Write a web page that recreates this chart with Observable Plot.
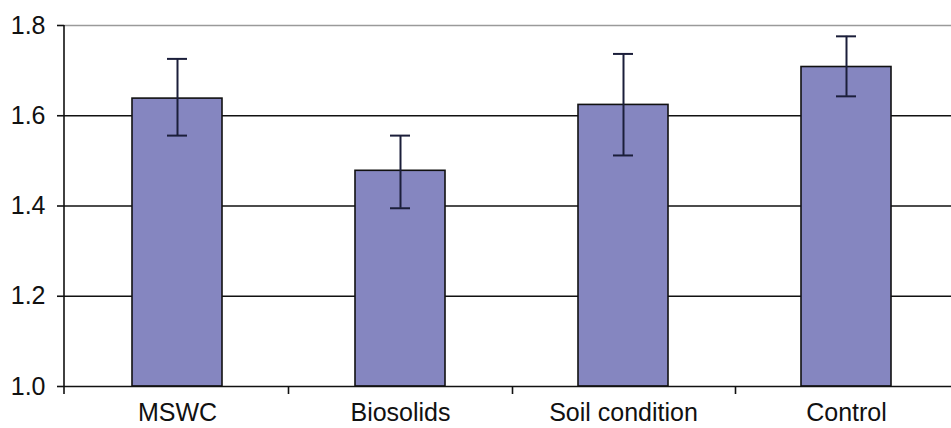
<!DOCTYPE html>
<html>
<head>
<meta charset="utf-8">
<script src="https://cdn.jsdelivr.net/npm/d3@7"></script>
<script src="https://cdn.jsdelivr.net/npm/@observablehq/plot@0.6"></script>
<style>
  html, body { margin: 0; padding: 0; background: #fff; overflow: hidden; }
  #chart svg { display: block; }
</style>
</head>
<body>
<div id="chart"></div>
<script>
const categories = ["MSWC", "Biosolids", "Soil condition", "Control"];
const means      = [1.638, 1.478, 1.624, 1.708];
const errLow     = [1.556, 1.395, 1.512, 1.643];
const errHigh    = [1.726, 1.556, 1.737, 1.776];
const yTicks     = [1.0, 1.2, 1.4, 1.6, 1.8];
const gridTicks  = [1.2, 1.4, 1.6];
const topTick    = [1.8];

const data = categories.map((c, i) => ({cat: c, mean: means[i], lo: errLow[i], hi: errHigh[i]}));

const W = 951, H = 428;
const mL = 64, mR = -8, mT = 25, mB = 42;
const barFill = "#8586c0";
const ink = "#111";
const errInk = "#1b1e3a";

// custom axis frame: left axis line and category boundary ticks
function axisFrame(index, scales, values, dims) {
  const g = d3.create("svg:g");
  const x0 = dims.marginLeft, x1 = dims.width - dims.marginRight;
  const yTop = dims.marginTop, yBot = dims.height - dims.marginBottom;
  const n = categories.length;
  const step = (x1 - x0) / n;
  g.append("line").attr("x1", x0).attr("x2", x0).attr("y1", yTop).attr("y2", yBot + 8)
    .attr("stroke", ink).attr("stroke-width", 1.6);
  for (let k = 1; k < n; k++) {
    const xx = Math.round(x0 + k * step) + 0.5;
    g.append("line").attr("x1", xx).attr("x2", xx).attr("y1", yBot).attr("y2", yBot + 8)
      .attr("stroke", ink).attr("stroke-width", 1.6);
  }
  return g.node();
}

const chart = Plot.plot({
  width: W,
  height: H,
  marginLeft: mL,
  marginRight: mR,
  marginTop: mT,
  marginBottom: mB,
  style: {fontFamily: "'Liberation Sans', Arial, sans-serif", color: "#111", background: "#fff"},
  x: {type: "band", domain: categories, paddingInner: 0.595, paddingOuter: 0.2975, label: null},
  y: {type: "linear", domain: [1.0, 1.8], label: null},
  marks: [
    Plot.ruleY(topTick, {stroke: "#9a9a9a", strokeWidth: 1.6}),
    Plot.ruleY(gridTicks, {stroke: ink, strokeWidth: 1.6}),
    Plot.barY(data, {x: "cat", y1: yTicks[0], y2: "mean", fill: barFill, stroke: ink, strokeWidth: 1.6}),
    Plot.ruleX(data, {x: "cat", y1: "lo", y2: "hi", stroke: errInk, strokeWidth: 2}),
    Plot.tickY(data, {x: "cat", y: "hi", stroke: errInk, strokeWidth: 2, insetLeft: 35, insetRight: 35}),
    Plot.tickY(data, {x: "cat", y: "lo", stroke: errInk, strokeWidth: 2, insetLeft: 35, insetRight: 35}),
    Plot.ruleY([yTicks[0]], {stroke: ink, strokeWidth: 1.6}),
    axisFrame,
    Plot.axisY({ticks: yTicks, tickFormat: d3.format(".1f"), tickSize: 7, tickPadding: 12,
                fontSize: 25, label: null, stroke: ink, strokeWidth: 1.6}),
    Plot.axisX({tickSize: 0, tickPadding: 17, fontSize: 25, label: null})
  ]
});

document.getElementById("chart").appendChild(chart);
</script>
</body>
</html>
